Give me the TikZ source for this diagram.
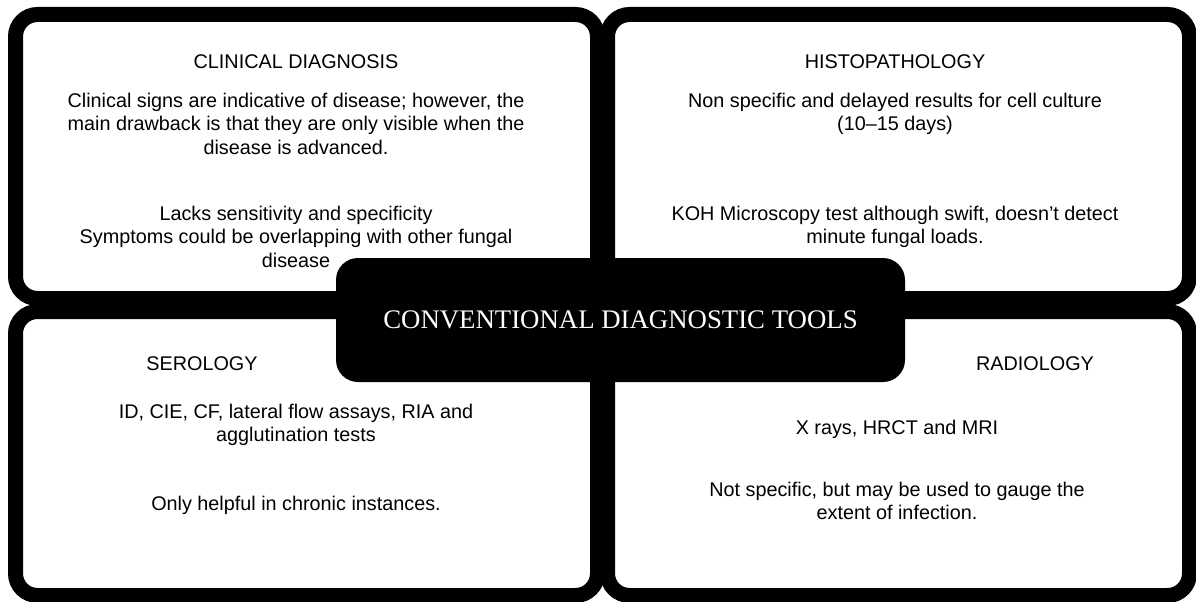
\documentclass[tikz,border=0pt]{standalone}
\usepackage{fontspec}
\setmainfont{Liberation Sans}
\newfontfamily\titlefont{Liberation Serif}
\begin{document}
\begin{tikzpicture}[x=1pt,y=-1pt,
  panel/.style={draw=black,fill=white,line width=15pt,rounded corners=22pt,
    minimum width=582pt,minimum height=284pt,inner sep=0pt},
  hub/.style={fill=black,rounded corners=22pt,minimum width=569pt,
    minimum height=124pt,inner sep=0pt,text=white,
    font=\titlefont\fontsize{26.8}{30}\selectfont},
  txt/.style={anchor=base,align=center,inner sep=0pt,
    font=\fontsize{19.8}{23.6}\selectfont}]
\useasboundingbox (0,0) rectangle (1196,602);
\fill[white] (0,0) rectangle (1196,602);
\node[panel] (tl) at (306.5,156.5) {};
\node[panel] (tr) at (898.5,156.5) {};
\node[panel] (bl) at (306.5,453.5) {};
\node[panel] (br) at (898.5,453.5) {};
\node[hub] (hub) at (620.5,320) {CONVENTIONAL DIAGNOSTIC TOOLS};
% top left
\node[txt] (tlh) at (296,69) {CLINICAL DIAGNOSIS};
\node[txt] (tla) at (296,154.2) {Clinical signs are indicative of disease; however, the\\main drawback is that they are only visible when the\\disease is advanced.};
\node[txt] (tlb) at (296,267.2) {Lacks sensitivity and specificity\\Symptoms could be overlapping with other fungal\\disease};
% top right
\node[txt] (trh) at (895,69) {HISTOPATHOLOGY};
\node[txt] (tra) at (895,130.6) {Non specific and delayed results for cell culture\\(10–15 days)};
\node[txt] (trb) at (895,243.6) {KOH Microscopy test although swift, doesn’t detect\\minute fungal loads.};
% bottom left
\node[txt] (blh) at (202,370) {SEROLOGY};
\node[txt] (bla) at (296,441.6) {ID, CIE, CF, lateral flow assays, RIA and\\agglutination tests};
\node[txt] (blb) at (296,510) {Only helpful in chronic instances.};
% bottom right
\node[txt] (brh) at (1035,370) {RADIOLOGY};
\node[txt] (bra) at (897,434) {X rays, HRCT and MRI};
\node[txt] (brb) at (897,519.6) {Not specific, but may be used to gauge the\\extent of infection.};
\end{tikzpicture}
\end{document}
